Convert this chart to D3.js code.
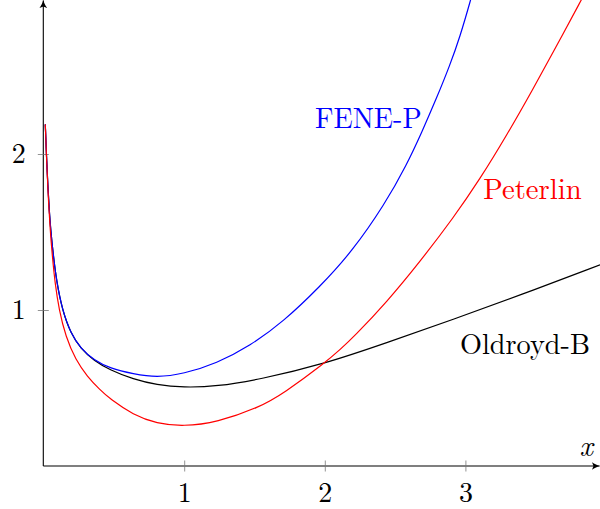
<!DOCTYPE html>
<html>
<head>
<meta charset="utf-8">
<script src="https://cdn.jsdelivr.net/npm/d3@7"></script>
<style>
body { margin: 0; background: #fff; }
svg { display: block; }
text { font-family: "Latin Modern Roman", "CMU Serif", "Liberation Serif", "Times New Roman", "Tinos", "Nimbus Roman", "FreeSerif", "Noto Serif", "DejaVu Serif", serif; }
</style>
</head>
<body>
<svg id="chart" width="600" height="509"></svg>
<script>
'use strict';

// tick values
const xTicks = [1, 2, 3];
const yTicks = [1, 2];

// values
const oldroydX = [0.012, 0.02, 0.03, 0.04, 0.05, 0.069, 0.093, 0.133, 0.193, 0.264, 0.358, 0.472, 0.638, 0.804, 0.994, 1.231, 1.539, 2.0, 2.44, 2.914, 3.388, 3.958];
const oldroydY = [2.19, 2.0, 1.8, 1.64, 1.52, 1.35, 1.18, 1.0, 0.85, 0.752, 0.676, 0.615, 0.556, 0.52, 0.503, 0.51, 0.555, 0.655, 0.79, 0.94, 1.095, 1.29];

const fenepX = [0.012, 0.02, 0.03, 0.04, 0.05, 0.069, 0.093, 0.133, 0.193, 0.264, 0.358, 0.472, 0.638, 0.804, 0.994, 1.231, 1.468, 1.705, 1.966, 2.19, 2.428, 2.582, 2.69, 2.796, 2.89, 2.961, 3.038, 3.08];
const fenepY = [2.19, 2.0, 1.8, 1.64, 1.52, 1.35, 1.18, 1.0, 0.851, 0.754, 0.679, 0.626, 0.59, 0.567, 0.59, 0.658, 0.77, 0.925, 1.15, 1.37, 1.68, 1.93, 2.14, 2.36, 2.57, 2.75, 2.989, 3.13];

const peterlinX = [0.012, 0.02, 0.03, 0.046, 0.062, 0.081, 0.11, 0.157, 0.228, 0.311, 0.401, 0.472, 0.638, 0.804, 0.994, 1.231, 1.539, 1.705, 2.0, 2.113, 2.203, 2.44, 2.677, 2.914, 3.104, 3.294, 3.483, 3.625, 3.827, 3.9];
const peterlinY = [2.19, 1.99, 1.78, 1.52, 1.345, 1.175, 1.0, 0.83, 0.68, 0.573, 0.488, 0.43, 0.327, 0.272, 0.254, 0.279, 0.378, 0.465, 0.66, 0.75, 0.825, 1.05, 1.31, 1.59, 1.84, 2.12, 2.42, 2.655, 2.99, 3.12];

const seriesNames = ['Oldroyd-B', 'FENE-P', 'Peterlin'];
const seriesX = [oldroydX, fenepX, peterlinX];
const seriesY = [oldroydY, fenepY, peterlinY];
const seriesColors = ['#000000', '#0000ff', '#ff0000'];

const width = 600;
const height = 509;

const x = d3.scaleLinear().domain([0, 4]).range([43.6, 606]);
const y = d3.scaleLinear().domain([0, 3]).range([466, -2]);

const svg = d3.select('#chart');

const defs = svg.append('defs');
defs.append('clipPath')
	.attr('id', 'plotClip')
	.append('rect')
	.attr('x', x(0))
	.attr('y', 0)
	.attr('width', width - x(0))
	.attr('height', y(0));

defs.append('marker')
	.attr('id', 'arrow')
	.attr('viewBox', '-8 -4 9 8')
	.attr('refX', 0)
	.attr('refY', 0)
	.attr('markerUnits', 'userSpaceOnUse')
	.attr('markerWidth', 9)
	.attr('markerHeight', 8)
	.attr('orient', 'auto')
	.append('path')
	.attr('d', 'M0.5,0 C-2,-0.6 -5,-2 -7.5,-3.8 L-6,0 L-7.5,3.8 C-5,2 -2,0.6 0.5,0 Z')
	.attr('fill', '#000');

// axes lines
svg.append('line')
	.attr('x1', x(0) - 0.3).attr('x2', width - 0.5)
	.attr('y1', y(0)).attr('y2', y(0))
	.attr('stroke', '#000').attr('stroke-width', 1.1)
	.attr('marker-end', 'url(#arrow)');

svg.append('line')
	.attr('x1', x(0) - 0.3).attr('x2', x(0) - 0.3)
	.attr('y1', y(0)).attr('y2', 0.5)
	.attr('stroke', '#000').attr('stroke-width', 1.1)
	.attr('marker-end', 'url(#arrow)');

// x ticks
const xAxis = svg.append('g')
	.attr('transform', `translate(0,${y(0)})`)
	.call(d3.axisBottom(x).tickValues(xTicks).tickSize(5.5).tickPadding(11).tickFormat(d3.format('d')));
xAxis.attr('font-family', null);
xAxis.select('.domain').remove();
xAxis.selectAll('.tick line').attr('stroke', '#777').attr('stroke-width', 0.8);
xAxis.selectAll('.tick').append('line')
	.attr('y2', -5.5).attr('stroke', '#777').attr('stroke-width', 0.8);
xAxis.selectAll('.tick text')
	.attr('font-size', 28).attr('fill', '#000');

// y ticks
const yAxis = svg.append('g')
	.attr('transform', `translate(${x(0) - 0.3},0)`)
	.call(d3.axisLeft(y).tickValues(yTicks).tickSize(5.5).tickPadding(12).tickFormat(d3.format('d')));
yAxis.attr('font-family', null);
yAxis.select('.domain').remove();
yAxis.selectAll('.tick line').attr('stroke', '#777').attr('stroke-width', 0.8);
yAxis.selectAll('.tick').append('line')
	.attr('x2', 5.5).attr('stroke', '#777').attr('stroke-width', 0.8);
yAxis.selectAll('.tick text')
	.attr('font-size', 28).attr('fill', '#000');

// curves, smoothed through the read points
const line = d3.line()
	.x(d => x(d[0]))
	.y(d => y(d[1]))
	.curve(d3.curveBasis);

const plot = svg.append('g').attr('clip-path', 'url(#plotClip)');
for (let i = 0; i < seriesNames.length; i++) {
	const points = seriesX[i].map((v, j) => [v, seriesY[i][j]]);
	plot.append('path')
		.attr('d', line(points))
		.attr('fill', 'none')
		.attr('stroke', seriesColors[i])
		.attr('stroke-width', 1.2);
}

// curve labels
const labelSpots = [
	{x: 460, y: 354, w: 130},
	{x: 315, y: 128.3, w: 106.7},
	{x: 483.3, y: 199.3, w: 98.4}
];
for (let i = 0; i < seriesNames.length; i++) {
	svg.append('text')
		.attr('x', labelSpots[i].x)
		.attr('y', labelSpots[i].y)
		.attr('font-size', 29)
		.attr('fill', seriesColors[i])
		.attr('textLength', labelSpots[i].w)
		.attr('lengthAdjust', 'spacingAndGlyphs')
		.text(seriesNames[i]);
}

// axis label
svg.append('text')
	.attr('x', 579.5)
	.attr('y', 456)
	.attr('font-size', 29)
	.attr('font-style', 'italic')
	.text('x');
</script>
</body>
</html>
